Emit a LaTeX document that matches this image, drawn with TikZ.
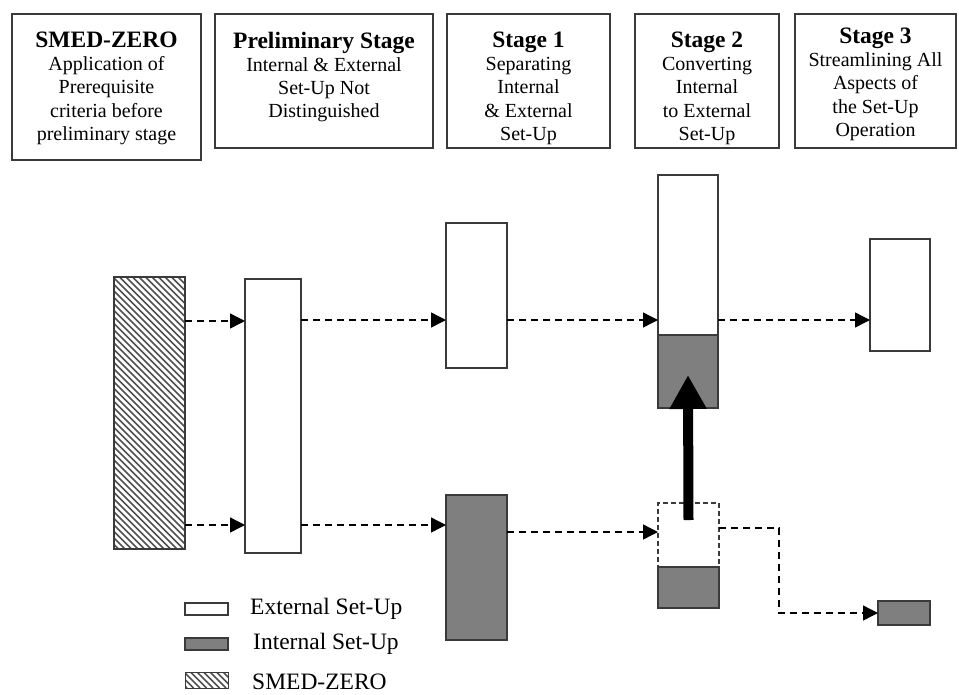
\documentclass[tikz,border=0pt]{standalone}
\usepackage{fontspec}
\setmainfont{Liberation Serif}
\usetikzlibrary{arrows.meta,calc}

\definecolor{edge}{HTML}{3A3A3A}
\definecolor{inner}{HTML}{7F7F7F}
\definecolor{hatch}{HTML}{505050}

\newcommand{\stagehead}[1]{{\fontsize{23.5}{23}\selectfont\bfseries #1}}

\tikzset{
  hdrbox/.style={draw=edge, line width=1.8pt, inner sep=0pt, outer sep=0pt, anchor=north west},
  hdrtext/.style={align=center, anchor=north, inner sep=0pt,
                  font=\fontsize{20}{23.3}\selectfont},
  extbar/.style={draw=edge, line width=1.5pt, fill=white, inner sep=0pt, outer sep=0pt, anchor=north west},
  intbar/.style={extbar, fill=inner},
  ghostbar/.style={draw=edge, line width=1.3pt, dash pattern=on 5pt off 3pt, inner sep=0pt, outer sep=0pt, anchor=north west},
  flow/.style={draw=black, line width=1.4pt, dash pattern=on 7pt off 5pt,
               -{Triangle[length=15pt,width=15pt]}},
  push/.style={line width=10pt, -{Triangle[length=34pt,width=35pt]}},
  legtext/.style={anchor=west, inner sep=0pt, font=\fontsize{23.5}{26}\selectfont},
}

% hatched rectangle: top-left (#1,#2), bottom-right (#3,#4), stripe run #5
\newcommand{\hatchbox}[5]{%
  \begin{scope}
    \clip (#1,#2) rectangle (#3,#4);
    \foreach \a in {-300,-293.5,...,240}
      \draw[hatch, line width=1.6pt] (#1+\a,#2) -- ++(#5,#5);
  \end{scope}
}

\begin{document}
\begin{tikzpicture}[x=1pt,y=-1pt]
\useasboundingbox (0,0) rectangle (959,694);
\fill[white] (0,0) rectangle (959,694);

% ---- header boxes ----
\node[hdrbox, minimum width=189pt, minimum height=146pt] (h0) at (12,14) {};
\node[hdrbox, minimum width=218pt, minimum height=134pt] (h1) at (215,14) {};
\node[hdrbox, minimum width=163pt, minimum height=134pt] (h2) at (447,14) {};
\node[hdrbox, minimum width=144pt, minimum height=134pt] (h3) at (635,14) {};
\node[hdrbox, minimum width=161pt, minimum height=134pt] (h4) at (795,14) {};

\node[hdrtext] (t0) at ($(h0.north)+(0,17.5)$)
  {\stagehead{SMED-ZERO}\\Application of\\Prerequisite\\criteria before\\preliminary stage};
\node[hdrtext] (t1) at ($(h1.north)+(0,17.5)$)
  {\stagehead{Preliminary Stage}\\Internal \& External\\Set-Up Not\\Distinguished};
\node[hdrtext] (t2) at ($(h2.north)+(0,17.5)$)
  {\stagehead{Stage 1}\\Separating\\Internal\\\& External\\Set-Up};
\node[hdrtext] (t3) at ($(h3.north)+(0,17.5)$)
  {\stagehead{Stage 2}\\Converting\\Internal\\to External\\Set-Up};
\node[hdrtext] (t4) at ($(h4.north)+(0,13.5)$)
  {\stagehead{Stage 3}\\Streamlining All\\Aspects of\\the Set-Up\\Operation};

% ---- SMED-ZERO bar ----
\hatchbox{114}{277}{185}{549}{272}
\node[draw=edge, line width=1.3pt, inner sep=0pt, outer sep=0pt, anchor=north west,
      minimum width=71pt, minimum height=272pt] (zero) at (114,277) {};

% ---- preliminary stage ----
\node[extbar, minimum width=56pt, minimum height=274pt] (pre) at (245,279) {};

% ---- stage 1 ----
\node[extbar, minimum width=61pt, minimum height=145pt] (s1ext) at (446,223) {};
\node[intbar, minimum width=61pt, minimum height=145pt] (s1int) at (446,495) {};

% ---- stage 2 ----
\node[extbar, minimum width=60pt, minimum height=160pt] (s2ext) at (658,175) {};
\node[intbar, minimum width=60pt, minimum height=73pt] (s2int) at (658,335) {};
\node[ghostbar, minimum width=61pt, minimum height=64pt] (s2ghost) at (658,503) {};
\node[intbar, minimum width=61pt, minimum height=41pt] (s2low) at (658,567) {};

% ---- stage 3 ----
\node[extbar, minimum width=60pt, minimum height=112pt] (s3ext) at (870,239) {};
\node[intbar, minimum width=52pt, minimum height=24pt] (s3int) at (878,601) {};

% ---- flow arrows ----
\draw[flow] (zero.east |- 0,321) -- (pre.west |- 0,321);
\draw[flow] (zero.east |- 0,525) -- (pre.west |- 0,525);
\draw[flow] (pre.east |- 0,320) -- (s1ext.west |- 0,320);
\draw[flow] (pre.east |- 0,525) -- (s1int.west |- 0,525);
\draw[flow] (s1ext.east |- 0,320) -- (s2ext.west |- 0,320);
\draw[flow] (s1int.east |- 0,532) -- (s2ghost.west |- 0,532);
\draw[flow] (s2ext.east |- 0,320) -- (s3ext.west |- 0,320);
\coordinate (bend) at (779,528);
\draw[flow] (s2ghost.east |- bend) -- (bend) |- (s3int.west);

% ---- conversion arrow ----
\draw[push] ($(s2ghost.north)+(0,17)$) -- ($(s2int.south)+(0,-33)$);

% ---- legend ----
\node[extbar, line width=1.3pt, minimum width=43pt, minimum height=12pt] (lgext) at (185,603) {};
\node[legtext] (lgexttxt) at (250,609) {External Set-Up};
\node[intbar, line width=1.3pt, minimum width=43pt, minimum height=12pt] (lgint) at (185,638) {};
\node[legtext] (lginttxt) at (253,644) {Internal Set-Up};
\hatchbox{185}{672}{228}{688}{16}
\node[draw=edge, line width=0.8pt, inner sep=0pt, outer sep=0pt, anchor=north west,
      minimum width=43pt, minimum height=16pt] (lgzero) at (185,672) {};
\node[legtext] (lgzerotxt) at (252,682) {SMED-ZERO};
\end{tikzpicture}
\end{document}
